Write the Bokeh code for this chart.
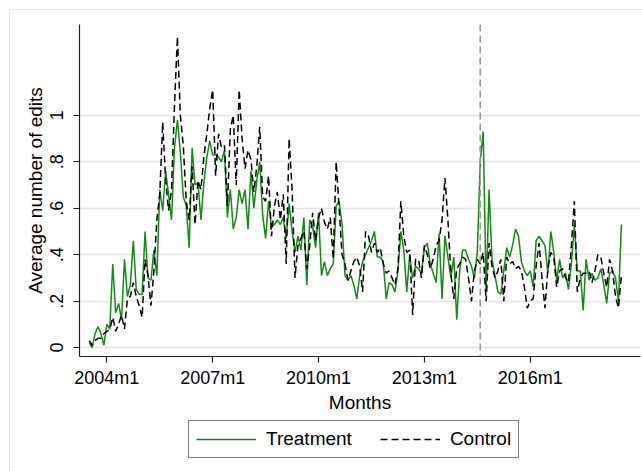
from bokeh.plotting import figure
from bokeh.layouts import column
from bokeh.models import (ColumnDataSource, Span, Legend, LegendItem, FixedTicker,
                          Range1d)
from bokeh.embed import file_html
from bokeh.resources import INLINE

# ---- data (monthly, 2003m7 .. 2018m8) ----
start_year, start_month = 2003, 7
treatment = [
    0.02, 0.00, 0.06, 0.09, 0.06, 0.01, 0.10, 0.08, 0.36, 0.15,
    0.19, 0.12, 0.38, 0.22, 0.27, 0.46, 0.25, 0.23, 0.23, 0.50,
    0.30, 0.29, 0.42, 0.31, 0.68, 0.59, 0.76, 0.66, 0.55, 0.86,
    0.98, 0.84, 0.65, 0.61, 0.43, 0.86, 0.70, 0.71, 0.55, 0.71,
    0.82, 0.89, 0.83, 0.83, 0.82, 0.80, 0.85, 0.56, 0.68, 0.51,
    0.56, 0.68, 0.62, 0.68, 0.51, 0.76, 0.60, 0.72, 0.80, 0.57,
    0.47, 0.63, 0.52, 0.53, 0.55, 0.53, 0.56, 0.47, 0.62, 0.50,
    0.41, 0.48, 0.42, 0.56, 0.27, 0.55, 0.52, 0.43, 0.58, 0.31,
    0.37, 0.31, 0.34, 0.36, 0.61, 0.63, 0.53, 0.31, 0.29, 0.31,
    0.27, 0.21, 0.31, 0.37, 0.40, 0.43, 0.46, 0.50, 0.39, 0.39,
    0.37, 0.21, 0.28, 0.27, 0.24, 0.33, 0.50, 0.42, 0.24, 0.40,
    0.30, 0.35, 0.34, 0.32, 0.43, 0.45, 0.36, 0.32, 0.28, 0.49,
    0.21, 0.48, 0.39, 0.30, 0.39, 0.12, 0.33, 0.42, 0.42, 0.38,
    0.35, 0.30, 0.41, 0.80, 0.93, 0.24, 0.68, 0.38, 0.31, 0.24,
    0.23, 0.33, 0.43, 0.39, 0.44, 0.51, 0.48, 0.37, 0.33, 0.31,
    0.33, 0.26, 0.46, 0.48, 0.46, 0.44, 0.32, 0.50, 0.41, 0.29,
    0.38, 0.30, 0.32, 0.25, 0.36, 0.53, 0.33, 0.33, 0.16, 0.38,
    0.29, 0.32, 0.29, 0.30, 0.34, 0.27, 0.19, 0.32, 0.33, 0.30,
    0.20, 0.53,
]
control = [
    0.03, 0.01, 0.03, 0.04, 0.04, 0.06, 0.07, 0.08, 0.13, 0.07,
    0.10, 0.14, 0.08, 0.21, 0.22, 0.28, 0.22, 0.18, 0.13, 0.38,
    0.31, 0.18, 0.33, 0.55, 0.66, 0.97, 0.72, 0.59, 0.68, 1.04,
    1.34, 1.00, 0.87, 0.63, 0.55, 0.78, 0.53, 0.72, 0.68, 0.82,
    0.92, 1.03, 1.11, 0.74, 0.92, 0.86, 0.87, 0.61, 0.94, 1.00,
    0.70, 1.11, 0.90, 0.77, 0.85, 0.81, 0.67, 0.78, 0.95, 0.65,
    0.63, 0.74, 0.48, 0.61, 0.67, 0.55, 0.66, 0.36, 0.90, 0.68,
    0.30, 0.44, 0.47, 0.50, 0.34, 0.44, 0.58, 0.46, 0.56, 0.60,
    0.54, 0.51, 0.56, 0.38, 0.80, 0.60, 0.40, 0.36, 0.29, 0.33,
    0.37, 0.39, 0.35, 0.24, 0.50, 0.48, 0.41, 0.45, 0.41, 0.43,
    0.36, 0.32, 0.33, 0.30, 0.27, 0.34, 0.63, 0.48, 0.41, 0.42,
    0.14, 0.38, 0.38, 0.30, 0.44, 0.40, 0.34, 0.38, 0.44, 0.46,
    0.55, 0.73, 0.55, 0.32, 0.21, 0.34, 0.36, 0.39, 0.38, 0.30,
    0.20, 0.33, 0.38, 0.36, 0.41, 0.20, 0.45, 0.35, 0.30, 0.33,
    0.38, 0.20, 0.39, 0.36, 0.37, 0.34, 0.35, 0.33, 0.26, 0.17,
    0.20, 0.21, 0.35, 0.45, 0.30, 0.17, 0.34, 0.41, 0.39, 0.26,
    0.33, 0.34, 0.30, 0.28, 0.44, 0.63, 0.24, 0.30, 0.32, 0.32,
    0.33, 0.28, 0.33, 0.40, 0.39, 0.32, 0.26, 0.38, 0.33, 0.22,
    0.17, 0.31,
]
x_tick_years = [2004, 2007, 2010, 2013, 2016]
x_tick_labels = ["2004m1", "2007m1", "2010m1", "2013m1", "2016m1"]
y_ticks = [0, 0.2, 0.4, 0.6, 0.8, 1.0]
y_tick_labels = ["0", ".2", ".4", ".6", ".8", "1"]
event_year, event_month = 2014, 8
series_labels = ["Treatment", "Control"]
x_title = "Months"
y_title = "Average number of edits"


def ym(y, m):
    return (y - 1960) * 12 + (m - 1)


months = [ym(start_year, start_month) + i for i in range(len(treatment))]
src = ColumnDataSource(dict(month=months, treat=treatment, ctrl=control))

FONT = "Liberation Sans"
GREEN = "#138a13"
DASH = "7 4"

# ---------------- main plot ----------------
p = figure(width=642, height=415, output_backend="svg", toolbar_location=None,
           x_range=Range1d(518.7, 709.5), y_range=Range1d(-0.0384, 1.391),
           min_border_left=79, min_border_right=2, min_border_top=24,
           min_border_bottom=56)
p.outline_line_color = None
p.background_fill_color = "white"
p.border_fill_color = None

tick_pos = [ym(y, 1) for y in x_tick_years]
p.xaxis.ticker = FixedTicker(ticks=tick_pos)
p.xaxis.major_label_overrides = {t: l for t, l in zip(tick_pos, x_tick_labels)}
p.yaxis.ticker = FixedTicker(ticks=y_ticks)
p.yaxis.major_label_overrides = {t: l for t, l in zip(y_ticks, y_tick_labels)}
p.yaxis.major_label_orientation = "vertical"

for ax in (p.xaxis[0], p.yaxis[0]):
    ax.axis_line_color = "#222222"
    ax.axis_line_width = 1.2
    ax.major_tick_line_color = "#222222"
    ax.major_tick_line_width = 1.2
    ax.major_tick_in = 0
    ax.major_tick_out = 6
    ax.minor_tick_line_color = None
    ax.major_label_text_font = FONT
    ax.major_label_text_font_size = "18px"
    ax.major_label_text_color = "black"
    ax.axis_label_text_font = FONT
    ax.axis_label_text_font_size = "19px"
    ax.axis_label_text_font_style = "normal"
    ax.axis_label_text_color = "black"

p.xaxis.axis_label = x_title
p.yaxis.axis_label = y_title
p.xaxis.major_label_standoff = 5
p.xaxis.axis_label_standoff = 1
p.yaxis.major_label_standoff = 10
p.yaxis.axis_label_standoff = 2

p.xgrid.grid_line_color = None
p.ygrid.ticker = FixedTicker(ticks=y_ticks)
p.ygrid.grid_line_color = "#e4e4e4"
p.ygrid.grid_line_width = 1.3

p.add_layout(Span(location=ym(event_year, event_month), dimension="height",
                  line_color="#9a9a9a", line_dash=DASH, line_width=1.6))

p.line("month", "treat", source=src, line_color=GREEN, line_width=1.5)
p.line("month", "ctrl", source=src, line_color="black", line_width=1.5,
       line_dash=DASH)

# ---------------- legend strip (same series, out of its view range) ----------------
q = figure(width=642, height=56, output_backend="svg", toolbar_location=None,
           x_axis_type=None, y_axis_type=None,
           x_range=Range1d(0, 1), y_range=Range1d(0, 1),
           min_border_left=0, min_border_right=0, min_border_top=0,
           min_border_bottom=0)
q.outline_line_color = None
q.background_fill_color = None
q.border_fill_color = None
q.grid.visible = False
lg = q.line("month", "treat", source=src, line_color=GREEN, line_width=1.5)
lc = q.line("month", "ctrl", source=src, line_color="black", line_width=1.5,
            line_dash=DASH)
legend = Legend(items=[LegendItem(label=series_labels[0], renderers=[lg]),
                       LegendItem(label=series_labels[1], renderers=[lc])],
                location=(109, 13), orientation="horizontal",
                glyph_width=60, glyph_height=20, label_standoff=10, spacing=28,
                padding=7, margin=0,
                border_line_color="black", border_line_width=1,
                background_fill_color="white", background_fill_alpha=1,
                label_text_font=FONT, label_text_font_size="19px",
                label_text_color="black")
q.add_layout(legend)

layout = column(p, q, spacing=0)
layout.styles = {
    "background": ("linear-gradient(#e8e8e8,#e8e8e8) 9px 9px / 1px 100% no-repeat, "
                   "linear-gradient(#e8e8e8,#e8e8e8) 9px 9px / 100% 1px no-repeat"),
}

open("out.html", "w").write(file_html(layout, INLINE))
